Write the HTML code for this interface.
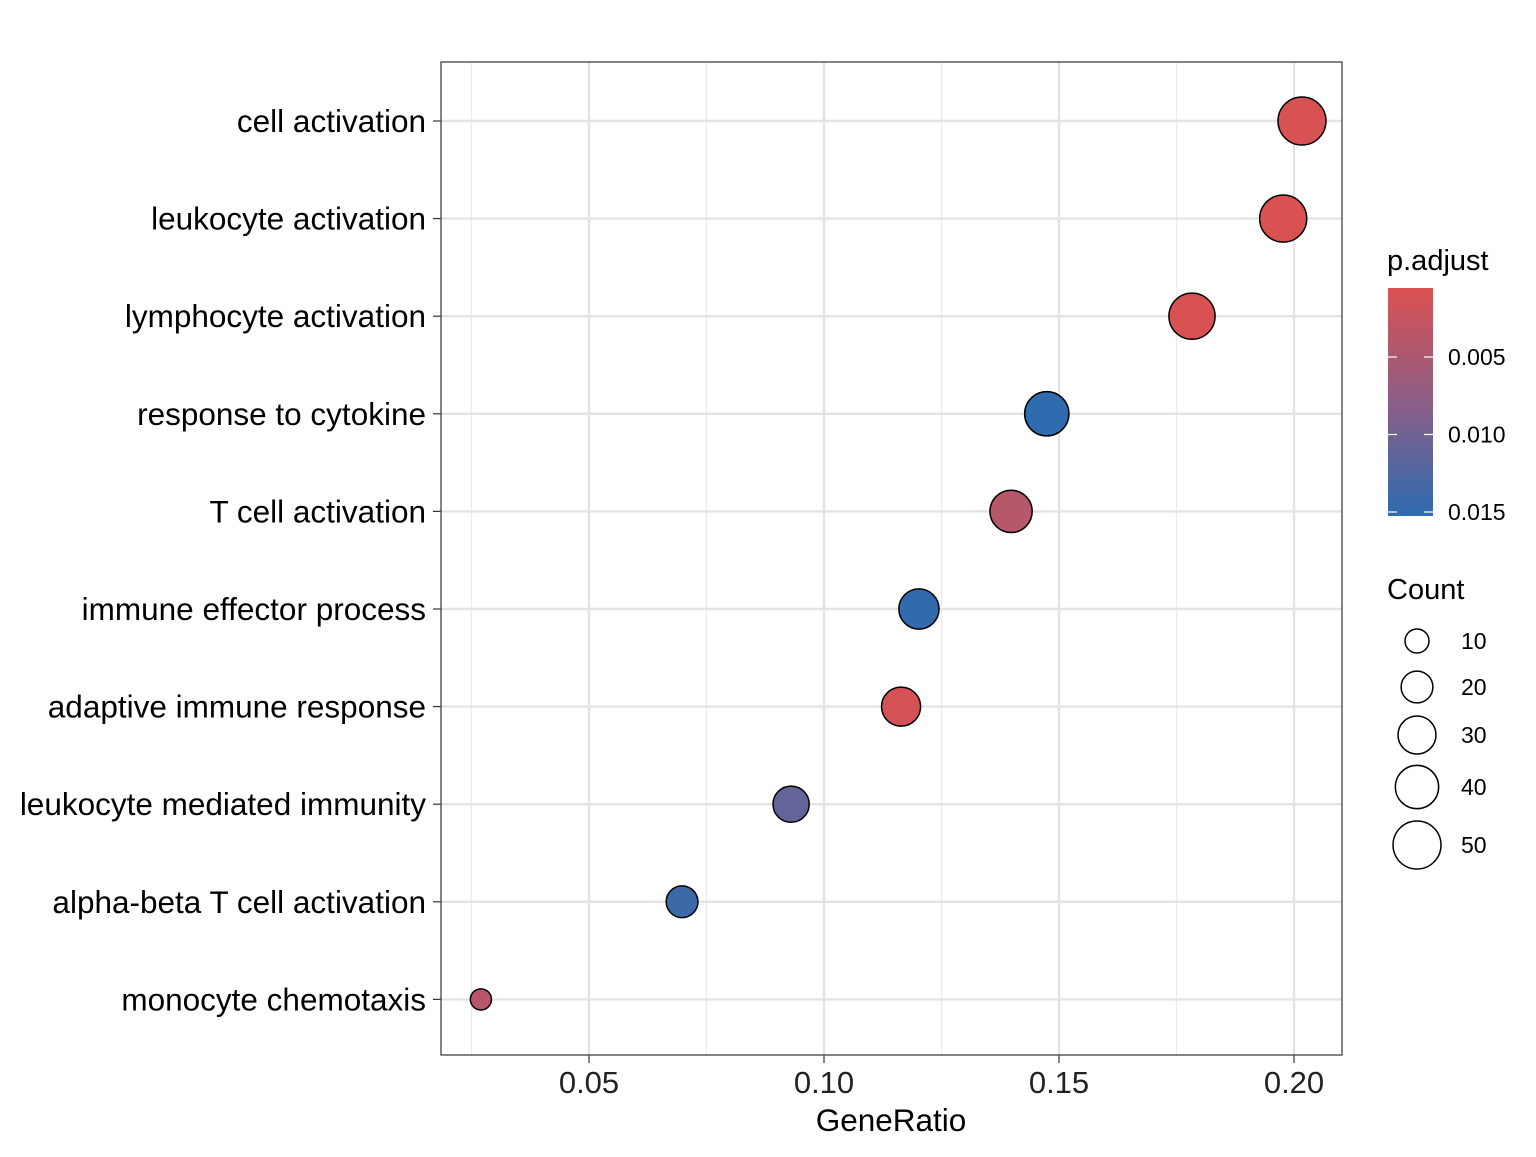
<!DOCTYPE html>
<html><head><meta charset="utf-8"><style>
body{margin:0;background:#fff;font-family:"Liberation Sans",Arial,sans-serif}
svg text{font-family:"Liberation Sans",Arial,sans-serif}
</style></head><body>
<svg id="chart" width="1536" height="1152" viewBox="0 0 1536 1152">
<defs><linearGradient id="cg" x1="0" y1="0" x2="0" y2="1">
<stop offset="0" stop-color="#DB5151"/><stop offset="0.5" stop-color="#8C5E86"/><stop offset="1" stop-color="#2C6CB0"/></linearGradient></defs>
<g id="grid"></g>
<g id="marks"></g>
<rect x="441" y="62" width="901" height="993" fill="none" stroke="#333" stroke-width="1.2"/>
<g id="axes"></g>
<text x="891" y="1131" font-size="31.5" text-anchor="middle" fill="#000">GeneRatio</text>
<g>
<text x="1387" y="270" font-size="29" fill="#000">p.adjust</text>
<rect x="1388" y="288" width="45" height="228" fill="url(#cg)"/>
<g id="cticks"></g>
</g>
<g>
<text x="1387" y="599" font-size="29" fill="#000">Count</text>
<g id="sizeleg"></g>
</g>
</svg>
<script>
const terms=["cell activation","leukocyte activation","lymphocyte activation","response to cytokine","T cell activation","immune effector process","adaptive immune response","leukocyte mediated immunity","alpha-beta T cell activation","monocyte chemotaxis"];
const geneRatio=[0.2017,0.1977,0.1783,0.1474,0.1398,0.1202,0.1164,0.0930,0.0698,0.0270];
const counts=[50,48,46,42,38,34,32,27,20,7];
const padj=[0.0008,0.0006,0.0007,0.0150,0.0040,0.0148,0.0012,0.0110,0.0140,0.0038];
const xTicks=[0.05,0.10,0.15,0.20];
const xTickLabels=["0.05","0.10","0.15","0.20"];
const cTicks=[0.005,0.010,0.015];
const cTickLabels=["0.005","0.010","0.015"];
const sizeBreaks=[10,20,30,40,50];

const NS="http://www.w3.org/2000/svg";
const xs=v=>589+(v-0.05)*4700;
const ys=i=>121+i*97.6;
const rs=c=>Math.sqrt(36+10.8*c);
const cy=p=>357+(p-0.005)*15500;
const pmin=0.00055,pmax=0.0152;
function col(p){let t=(p-pmin)/(pmax-pmin);t=Math.max(0,Math.min(1,t));
 const a=[219,81,81],m=[140,94,134],b=[44,108,176];let c;
 if(t<0.5){const u=t*2;c=a.map((v,k)=>Math.round(v+(m[k]-v)*u));}else{const u=(t-0.5)*2;c=m.map((v,k)=>Math.round(v+(b[k]-v)*u));}
 return `rgb(${c[0]},${c[1]},${c[2]})`;}
function mk(tag,at,parent){const e=document.createElementNS(NS,tag);for(const k in at)e.setAttribute(k,at[k]);parent.appendChild(e);return e;}
const grid=document.getElementById('grid'),marks=document.getElementById('marks'),axes=document.getElementById('axes');
for(let i=0;i<xTicks.length+1;i++){const v=xTicks[0]-0.025+i*0.05;const x=xs(v);if(x>441&&x<1342){const l=mk('line',{x1:x,x2:x,y1:62,y2:1055,stroke:'#ebebeb','stroke-width':1.2},grid);

}}
xTicks.forEach((v,i)=>{const x=xs(v);
 const g=mk('line',{x1:x,x2:x,y1:62,y2:1055,stroke:'#e3e3e3','stroke-width':2.4},grid);
 
 
 const t=mk('line',{x1:x,x2:x,y1:1055,y2:1063,stroke:'#333','stroke-width':1.2},axes);
 
 
 const tx=mk('text',{x:x,y:1093,'font-size':31,'text-anchor':'middle',fill:'#222'},axes);tx.textContent=xTickLabels[i];
 
 });
terms.forEach((n,i)=>{const y=ys(i);
 const g=mk('line',{x1:441,x2:1342,y1:y,y2:y,stroke:'#e3e3e3','stroke-width':2.4},grid);
 
 
 const t=mk('line',{x1:433,x2:441,y1:y,y2:y,stroke:'#333','stroke-width':1.2},axes);
 
 
 const tx=mk('text',{x:426,y:y+11,'font-size':31.5,'text-anchor':'end',fill:'#000'},axes);tx.textContent=n;
 
 
 const c=mk('circle',{cx:xs(geneRatio[i]),cy:y,r:rs(counts[i]),fill:col(padj[i]),stroke:'#000','stroke-width':1.5},marks);
 
 });
const ct=document.getElementById('cticks');
cTicks.forEach((v,i)=>{const y=cy(v);
 const a=mk('line',{x1:1388,x2:1397,y1:y,y2:y,stroke:'#fff','stroke-width':1.2},ct);
 
 
 const b=mk('line',{x1:1424,x2:1433,y1:y,y2:y,stroke:'#fff','stroke-width':1.2},ct);
 
 
 const tx=mk('text',{x:1448,y:y+8,'font-size':23,fill:'#000'},ct);tx.textContent=cTickLabels[i];
 
 });
const sl=document.getElementById('sizeleg');const sy=[641,687,735,787,845];
sizeBreaks.forEach((v,i)=>{
 const c=mk('circle',{cx:1417,cy:sy[i],r:rs(v),fill:'none',stroke:'#000','stroke-width':1.5},sl);
 
 
 const tx=mk('text',{x:1461,y:sy[i]+8,'font-size':23,fill:'#000'},sl);tx.textContent=v;
 
 });
</script>
</body></html>
